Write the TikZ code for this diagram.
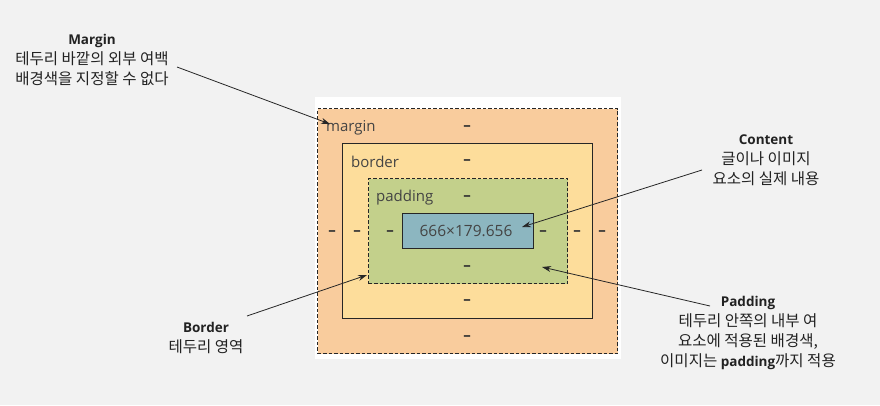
\documentclass[tikz,border=0pt]{standalone}
\usepackage{fontspec}
\setmainfont{Open Sans}
\newfontfamily\kr[Scale=1.15]{Noto Sans CJK KR}
\usetikzlibrary{arrows.meta}
\definecolor{pagebg}{HTML}{F2F2F2}
\definecolor{marginc}{HTML}{F9CC9D}
\definecolor{borderc}{HTML}{FDDD9B}
\definecolor{paddingc}{HTML}{C3D08B}
\definecolor{contentc}{HTML}{8CB6C0}
\definecolor{inktext}{HTML}{222222}
\definecolor{boxlabel}{HTML}{444444}
\tikzset{
  layer/.style={anchor=north west, inner sep=0pt, line width=1.4pt, draw=black!85},
  dashedlayer/.style={layer, dash pattern=on 3.5pt off 2pt},
  boxtext/.style={text=boxlabel, font=\fontsize{15}{18}\selectfont, inner sep=0pt},
  sidevalue/.style={text=black!80, font=\fontsize{15}{18}\selectfont\bfseries, inner sep=0pt},
  note/.style={align=center, text=inktext, font=\fontsize{13.5}{20}\selectfont, inner sep=0pt},
  pointer/.style={draw=black!85, line width=0.8pt, -{Stealth[length=9pt,width=6pt]}}
}
\begin{document}
\begin{tikzpicture}[x=1pt,y=-1pt]
  \useasboundingbox[fill=pagebg] (0,0) rectangle (880,405);
  \fill[white] (315,97) rectangle (621,359);

  % nested box model layers
  \node[dashedlayer, fill=marginc, minimum width=300pt, minimum height=245pt] (margin) at (317,108) {};
  \node[layer, fill=borderc, minimum width=250pt, minimum height=175pt] (border) at (342,143) {};
  \node[dashedlayer, fill=paddingc, minimum width=199pt, minimum height=105pt] (padding) at (368,178) {};
  \node[layer, fill=contentc, minimum width=131pt, minimum height=35pt] (content) at (402,213) {};

  % layer names
  \node[boxtext, anchor=west] (lm) at (326,128) {margin};
  \node[boxtext, anchor=west] (lb) at (351,162) {border};
  \node[boxtext, anchor=west] (lp) at (376,198) {padding};
  \node[boxtext, font=\fontsize{15.5}{18}\selectfont] (size) at (466,231) {666×179.656};

  % placeholder values for each side
  \foreach \nm/\x/\y in {mt/467/128, bt/467/162, pt/467/198, pb/467/268, bb/467/302, mb/467/338,
                         ml/332/233, bl/357/233, pl/390/233, pr/543/233, br/577/233, mr/602/233}
    \node[sidevalue] (\nm) at (\x,\y) {–};

  % annotations
  \node[note] (nmargin) at (92,60) {\textbf{Margin}\\{\kr 테두리 바깥의 외부 여백}\\{\kr 배경색을 지정할 수 없다}};
  \node[note] (ncontent) at (766,160.5) {\textbf{Content}\\{\kr 글이나 이미지}\\{\kr 요소의 실제 내용}};
  \node[note] (nborder) at (206,338) {\textbf{Border}\\{\kr 테두리 영역}};
  \node[note] (npadding) at (748,332.5) {\textbf{Padding}\\{\kr 테두리 안쪽의 내부 여}\\{\kr 요소에 적용된 배경색,}\\{\kr 이미지는 }\textbf{padding}{\kr 까지 적용}};

  % pointer ends
  \coordinate (am0) at (177,67);  \coordinate (am1) at (330,124);
  \coordinate (ac0) at (702,170); \coordinate (ac1) at (522,227);
  \coordinate (ab0) at (247,316); \coordinate (ab1) at (367,275);
  \coordinate (ap0) at (710,306); \coordinate (ap1) at (542,267);

  \draw[pointer] (am0) -- (am1);
  \draw[pointer] (ac0) -- (ac1);
  \draw[pointer] (ab0) -- (ab1);
  \draw[pointer] (ap0) -- (ap1);
\end{tikzpicture}
\end{document}
